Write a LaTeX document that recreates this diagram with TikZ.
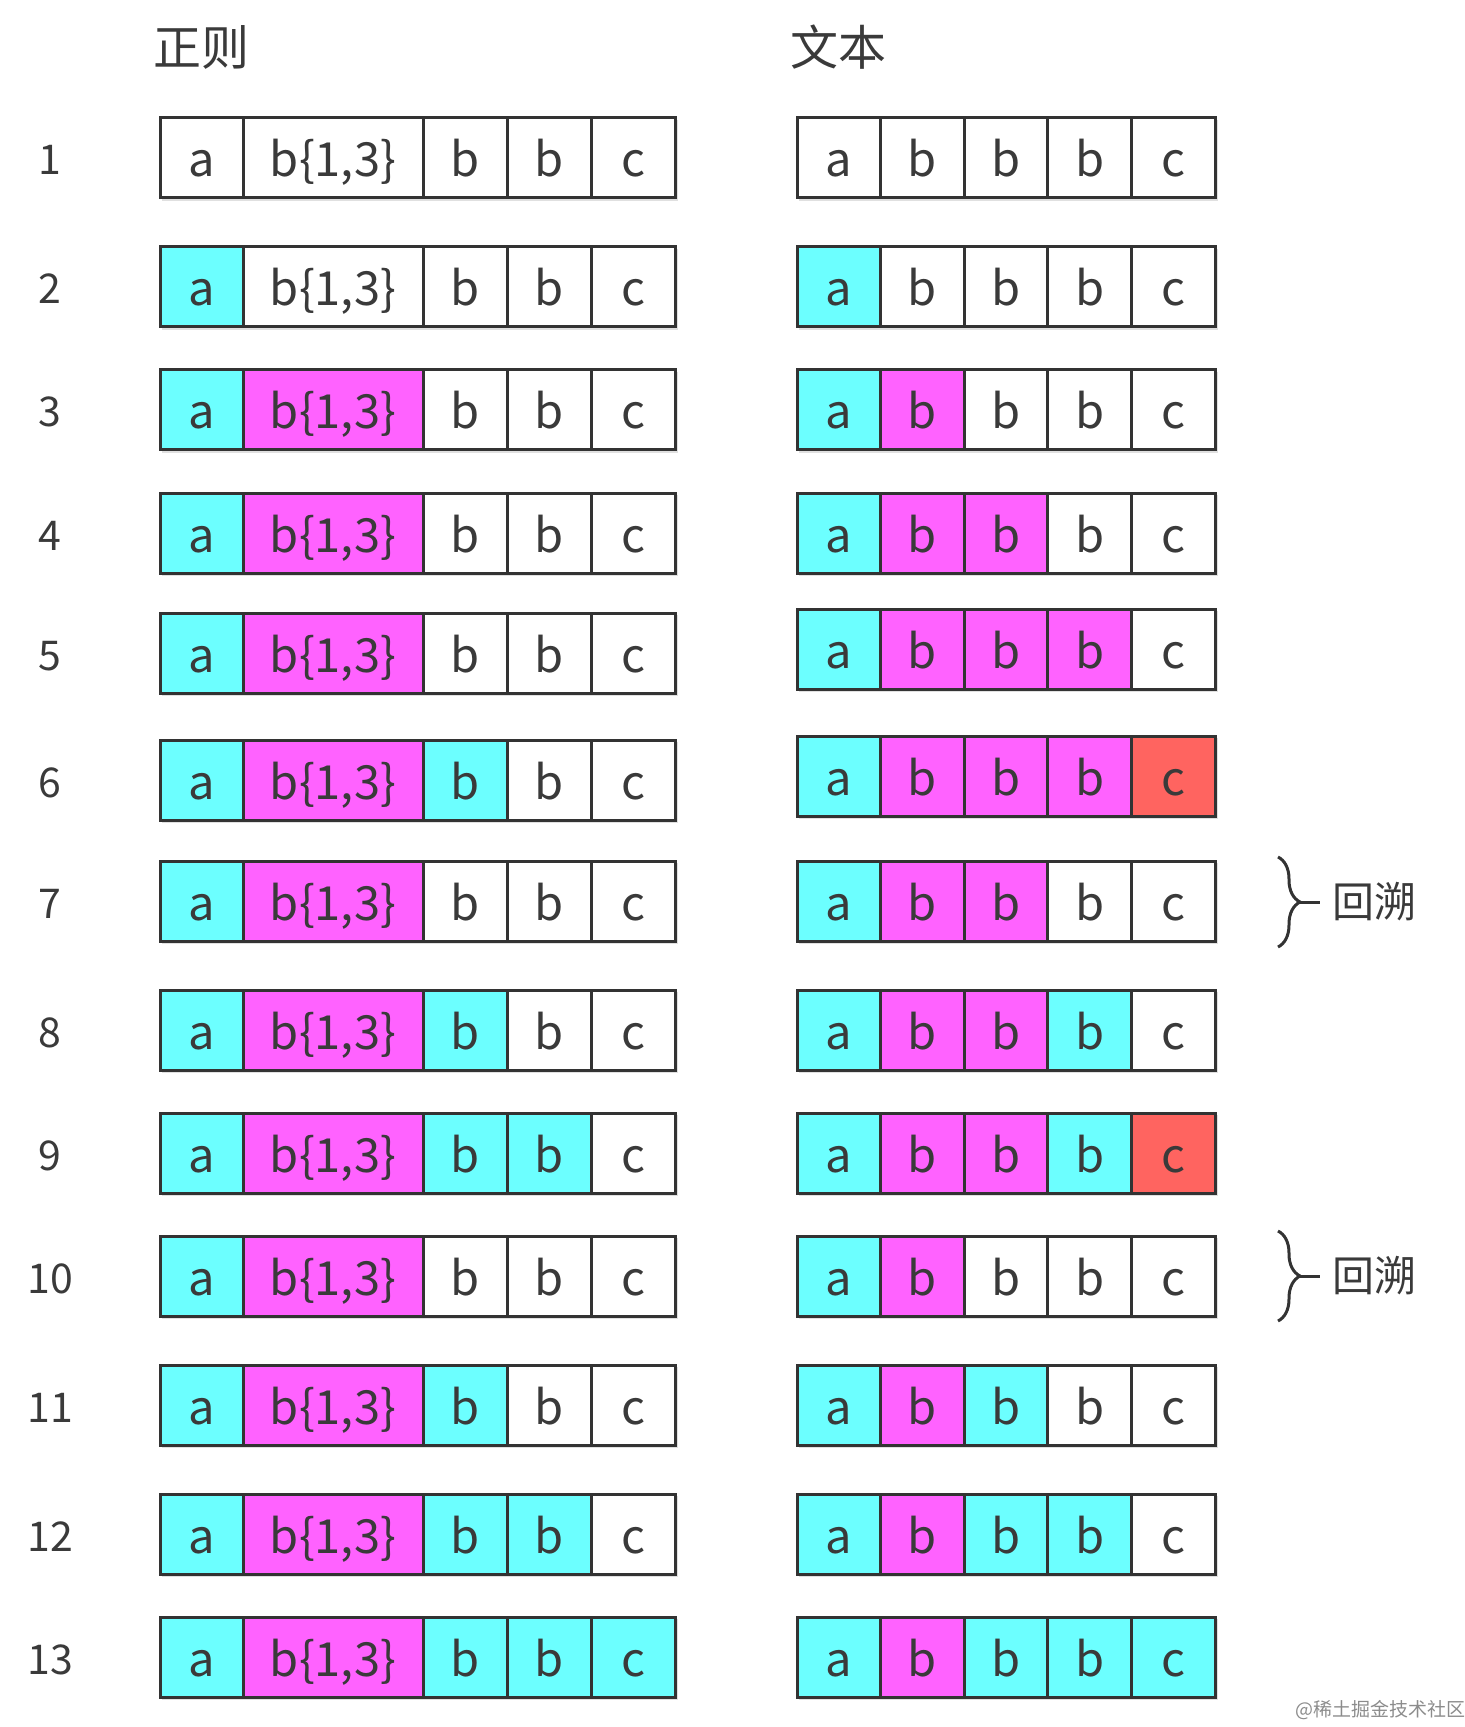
\documentclass[tikz,border=0pt]{standalone}
\usepackage{fontspec}
\setmainfont{Noto Sans CJK SC}
\usepackage{xcolor}
\usepackage{tikz}
\usetikzlibrary{positioning,decorations.pathreplacing}

\definecolor{linecol}{HTML}{333333}
\definecolor{txtcol}{HTML}{3A3A3A}
\colorlet{cellW}{white}
\definecolor{cellC}{HTML}{6CFFFF}
\definecolor{cellM}{HTML}{FF62FF}
\definecolor{cellR}{HTML}{FF6460}

\tikzset{
  cell/.style={draw=linecol, line width=1.5pt, minimum height=40pt, inner sep=0pt, outer sep=0pt,
    text=txtcol, font=\fontsize{23.5}{23.5}\selectfont, text height=19pt, text depth=0pt},
  rownum/.style={text=txtcol, font=\fontsize{20.5}{20.5}\selectfont, inner sep=0pt, text height=17pt, text depth=0pt},
  header/.style={text=txtcol, font=\fontsize{24}{24}\selectfont, inner sep=0pt, anchor=west},
  note/.style={text=txtcol, font=\fontsize{21}{21}\selectfont, inner sep=0pt, outer sep=6pt},
  backbrace/.style={draw=linecol, line width=1.5pt, decorate, decoration={brace, amplitude=11pt}},
  shade/.style={fill=black!12},
}

\begin{document}
\begin{tikzpicture}[x=0.5pt, y=-0.5pt]
  \useasboundingbox (0,0) rectangle (1465,1727);

  \node (regex) [header] at (153,47) {正则};
  \node (text) [header] at (790,47) {文本};

  % row / y left / y right / colours of the regex cells / colours of the text cells
  \foreach \r/\yl/\yr/\la/\lb/\lc/\ld/\le/\ta/\tb/\tc/\td/\te in {
      1/158/158/W/W/W/W/W/W/W/W/W/W,
      2/287/287/C/W/W/W/W/C/W/W/W/W,
      3/410/410/C/M/W/W/W/C/M/W/W/W,
      4/533/533/C/M/W/W/W/C/M/M/W/W,
      5/653/649/C/M/W/W/W/C/M/M/M/W,
      6/780/776/C/M/C/W/W/C/M/M/M/R,
      7/901/901/C/M/W/W/W/C/M/M/W/W,
      8/1030/1030/C/M/C/W/W/C/M/M/C/W,
      9/1153/1153/C/M/C/C/W/C/M/M/C/R,
      10/1276/1276/C/M/W/W/W/C/M/W/W/W,
      11/1405/1405/C/M/C/W/W/C/M/C/W/W,
      12/1534/1534/C/M/C/C/W/C/M/C/C/W,
      13/1657/1657/C/M/C/C/C/C/M/C/C/C} {
    \fill[shade] (162,\yl-38) rectangle (678,\yl+43);
    \fill[shade] (799,\yr-38) rectangle (1218,\yr+43);

    \node (num-\r) [rownum] at (50,\yl) {\r};

    \node (l-\r-1) [cell, fill=cell\la, minimum width=41.5pt] at (201.5,\yl) {a};
    \node (l-\r-2) [cell, fill=cell\lb, minimum width=90pt, right=0pt of l-\r-1] {b\{1,3\}};
    \node (l-\r-3) [cell, fill=cell\lc, minimum width=42pt, right=0pt of l-\r-2] {b};
    \node (l-\r-4) [cell, fill=cell\ld, minimum width=42pt, right=0pt of l-\r-3] {b};
    \node (l-\r-5) [cell, fill=cell\le, minimum width=42pt, right=0pt of l-\r-4] {c};

    \node (t-\r-1) [cell, fill=cell\ta, minimum width=41.8pt] at (838.8,\yr) {a};
    \node (t-\r-2) [cell, fill=cell\tb, minimum width=41.8pt, right=0pt of t-\r-1] {b};
    \node (t-\r-3) [cell, fill=cell\tc, minimum width=41.8pt, right=0pt of t-\r-2] {b};
    \node (t-\r-4) [cell, fill=cell\td, minimum width=41.8pt, right=0pt of t-\r-3] {b};
    \node (t-\r-5) [cell, fill=cell\te, minimum width=41.8pt, right=0pt of t-\r-4] {c};
  }

  % backtracking
  \foreach \r/\y in {7/902, 10/1276} {
    \node (back-\r) [note] at (1374,\y) {回溯};
    \coordinate (top-\r) at (1278,\y-45);
    \coordinate (bot-\r) at (1278,\y+45);
    \draw[backbrace] (top-\r) -- (bot-\r);
    \draw[draw=linecol, line width=1.5pt] ([xshift=11pt]top-\r |- back-\r) -- (back-\r.west);
  }

  \node (mark) [text=black!45, font=\fontsize{9.5}{9.5}\selectfont, inner sep=0pt] at (1380,1710) {@稀土掘金技术社区};
\end{tikzpicture}
\end{document}
